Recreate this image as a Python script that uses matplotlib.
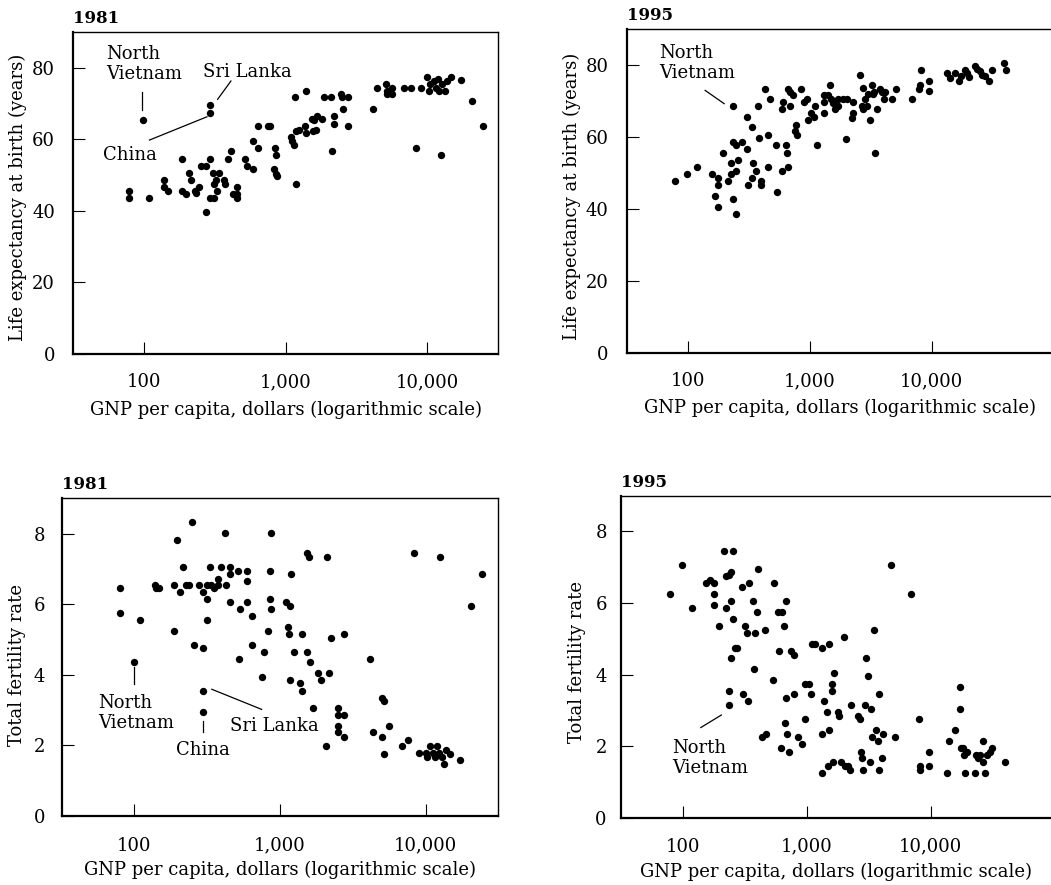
import matplotlib
matplotlib.use('Agg')
import matplotlib.pyplot as plt
from matplotlib.ticker import FixedLocator, FixedFormatter, NullLocator

plt.rcParams['font.family'] = ['DejaVu Serif']
plt.rcParams['font.size'] = 13

# ---------------- data ----------------
# Panel A: life expectancy 1981
le81_gnp = [98, 294, 294,
            78, 78, 108, 138, 138, 147, 187, 187, 199, 207, 217, 228, 235, 247, 255, 275, 275,
            294, 294, 315, 309, 341, 315, 323, 328, 370, 376, 395, 414, 423, 454, 454, 454,
            517, 531, 586, 592, 642, 642, 755, 780, 846, 855, 832, 855, 865,
            1091, 1120, 1151, 1183, 1170, 1183, 1248, 1375, 1406, 1406, 1567, 1636, 1549, 1680,
            1823, 1600, 1883, 2086, 2120, 2204, 2204, 2455, 2518, 2778, 2547, 2748,
            4168, 4446, 5090, 5227, 5607, 5227, 5607, 6856, 7638, 8375, 8977,
            10000, 10280, 10550, 11140, 11570, 11950, 12100, 12620, 12760, 13320, 13830, 14840,
            17450, 20760, 24660]
le81_life = [65.5, 69.5, 67.5,
             45.6, 43.6, 43.6, 48.5, 46.7, 45.5, 54.4, 45.6, 44.8, 50.6, 48.5, 45.5, 45.0, 46.7, 52.5, 52.5, 39.7,
             54.4, 43.6, 43.6, 50.6, 50.6, 47.6, 48.5, 45.5, 48.5, 47.6, 54.4, 56.7, 44.8, 46.7, 43.6, 44.6,
             54.4, 52.5, 51.6, 59.4, 57.5, 63.6, 63.6, 63.6, 57.5, 55.5, 51.6, 50.4, 49.7,
             60.6, 59.4, 58.5, 47.6, 71.7, 62.4, 62.6, 63.6, 61.7, 73.5, 62.4, 62.6, 65.6, 66.6,
             65.6, 65.5, 71.7, 71.7, 56.7, 66.6, 64.4, 72.6, 71.7, 71.7, 68.6, 63.6,
             68.6, 74.4, 75.6, 73.5, 74.4, 72.6, 72.6, 74.4, 74.4, 57.5, 74.4,
             77.4, 73.5, 75.6, 76.3, 74.4, 76.8, 73.5, 55.6, 75.4, 73.5, 76.3, 77.4,
             76.6, 70.6, 63.6]

# Panel B: life expectancy 1995
le95_gnp = [79, 98, 119, 157, 168, 176, 176, 176, 196, 215, 225, 225, 237, 237, 237, 247, 247, 247,
            260, 277, 305, 305, 314, 335, 335, 345, 363, 375, 384, 396, 396, 430, 452, 452, 473,
            533, 543, 589, 589, 608, 640, 648, 660, 668, 690, 690, 726, 759, 773, 782, 849, 899,
            945, 963, 1019, 1086, 1107, 1141, 1310, 1317, 1317, 1421, 1468, 1496, 1563, 1614,
            1698, 1712, 1887, 1972, 2008, 2208, 2249, 2279, 2585, 2668, 2718, 2753, 2843, 2932,
            3025, 3124, 3222, 3283, 3365, 3433, 3590, 3773, 3890, 4067, 4143, 4760, 5070, 6947,
            7878, 8024, 8124, 9575, 9575, 13280, 14130, 15530, 16860, 17290, 18760, 19370, 20370,
            22660, 23670, 24880, 25680, 27370, 29510, 31030, 39450, 40450]
le95_life = [47.8, 49.6, 51.7, 49.6, 43.6, 48.5, 46.7, 40.6, 55.6, 47.8, 52.9, 49.6, 68.6, 58.6, 42.9, 57.8, 38.6, 50.6,
             53.6, 58.6, 65.6, 56.6, 46.7, 62.8, 48.5, 52.7, 50.5, 68.6, 59.8, 47.8, 46.7, 73.5, 60.5, 51.7, 70.5,
             57.8, 44.7, 67.9, 50.6, 69.7, 57.8, 55.6, 73.5, 51.7, 68.6, 72.6, 71.6, 61.7, 63.5, 60.5, 73.5, 69.7,
             70.5, 64.7, 66.8, 65.6, 68.6, 57.8, 71.6, 66.6, 69.7, 71.6, 74.6, 70.5, 69.5, 67.7,
             70.5, 68.6, 70.5, 59.6, 70.5, 65.4, 69.7, 66.6, 77.4, 68.6, 73.7, 67.7, 70.5, 68.6,
             71.9, 64.7, 74.6, 71.9, 72.5, 55.6, 67.7, 73.5, 72.5, 70.5, 72.5, 70.5, 73.5, 70.5,
             73.5, 74.6, 78.6, 75.6, 72.8, 77.7, 76.5, 77.7, 75.6, 76.9, 78.6, 77.7, 76.8,
             79.9, 79.0, 78.3, 77.4, 76.9, 75.6, 78.6, 80.6, 78.6]

# Panel C: total fertility rate 1981
tf81_gnp = [79, 79, 109, 99.5, 296, 296, 138, 140, 148, 188, 197, 188, 207, 217, 225, 237, 249, 257,
            276, 296, 296, 317, 317, 317, 328, 337, 350, 374, 374, 394, 416, 424, 455, 455, 455,
            513, 524, 535, 594, 594, 594, 639, 639, 755, 779, 830, 848, 853, 861, 870,
            1096, 1131, 1155, 1167, 1167, 1186, 1242, 1365, 1409, 1416, 1525, 1532, 1580, 1606,
            1675, 1823, 1900, 2066, 2109, 2188, 2234, 2520, 2520, 2520, 2520, 2742, 2773, 2773,
            4169, 4346, 5008, 5061, 5195, 5195, 5620, 6893, 7615, 8371, 8998,
            10000, 10210, 10810, 11210, 11700, 12020, 12330, 12530, 13000, 13330, 13830, 14660,
            17340, 20610, 24370]
tf81_rate = [6.45, 5.75, 5.54, 4.36, 3.55, 2.96, 6.53, 6.45, 6.45, 6.53, 7.82, 5.24, 6.34, 7.04, 6.53, 6.53, 8.34, 4.85,
             6.53, 6.34, 4.76, 6.53, 6.14, 5.54, 7.04, 6.53, 6.45, 6.71, 6.53, 7.04, 8.03, 6.53, 7.04, 6.85, 6.06,
             6.95, 4.44, 5.86, 6.95, 6.65, 6.06, 5.66, 4.85, 3.94, 4.65, 5.24, 6.14, 6.95, 8.03, 5.86,
             6.06, 5.35, 5.15, 5.94, 3.85, 6.85, 4.65, 3.76, 5.15, 3.55, 4.65, 7.44, 7.35, 4.37,
             3.07, 4.06, 3.85, 1.97, 7.35, 4.06, 5.04, 3.07, 2.86, 2.55, 2.37, 5.15, 2.86, 2.25,
             4.44, 2.37, 2.25, 3.35, 3.27, 1.77, 2.55, 1.97, 2.16, 7.44, 1.78,
             1.78, 1.67, 1.97, 1.78, 1.67, 1.97, 1.78, 7.35, 1.67, 1.47, 1.86, 1.77,
             1.58, 5.94, 6.85]

# Panel D: total fertility rate 1995
tf95_gnp = [78.5, 98.8, 118, 155, 165, 178, 178, 178, 196, 216, 255, 225, 237, 247, 225, 247, 255, 263, 275,
            247, 237, 237, 303, 317, 333, 343, 366, 375, 307, 337, 384, 396, 406, 437, 459, 474,
            530, 540, 589, 638, 593, 615, 650, 667, 675, 687, 695, 722, 754, 787, 787, 849, 909,
            967, 967, 1041, 1093, 1106, 1164, 1318, 1318, 1318, 1376, 1446, 1473, 1501, 1501, 1596,
            1596, 1617, 1667, 1775, 1829, 1874, 1995, 2032, 2163, 2232, 2287, 2573, 2688, 2721,
            2773, 2826, 2951, 2987, 3098, 3236, 3296, 3340, 3468, 3597, 3735, 3850, 3850, 4070,
            4149, 4786, 5120, 6980, 8000, 8150, 8150, 9640, 9640, 13470, 14150, 15830, 17150,
            17150, 17480, 18360, 18700, 19540, 18920, 22800, 23220, 23950, 25000, 26300, 26600,
            27300, 28300, 29800, 31100, 39800]
tf95_rate = [6.25, 7.05, 5.86, 6.55, 6.63, 6.55, 6.25, 5.94, 5.36, 7.45, 7.45, 6.75, 6.77, 6.87, 5.86, 6.06, 5.55, 4.74, 4.74,
             4.47, 3.54, 3.14, 6.45, 5.36, 5.16, 6.55, 6.06, 4.15, 3.47, 3.27, 5.16, 5.75, 6.94, 2.26, 5.24, 2.34,
             3.84, 6.55, 5.75, 5.75, 4.66, 1.96, 5.36, 2.65, 6.06, 3.35, 2.34, 1.84, 4.66, 4.56, 3.47, 2.26, 2.06,
             2.75, 3.75, 3.75, 3.47, 4.85, 4.85, 4.74, 1.26, 2.34, 3.27, 2.96, 1.45, 2.45, 4.85, 3.53,
             3.75, 1.56, 4.05, 2.96, 2.85, 1.56, 5.05, 1.45, 1.45, 1.33, 3.14, 2.85, 2.75, 1.84,
             1.66, 1.33, 3.14, 4.47, 3.95, 1.56, 3.05, 2.26, 5.24, 2.45, 2.15, 3.47, 1.33, 1.66,
             2.34, 7.05, 2.26, 6.25, 2.75, 1.45, 1.33, 1.84, 1.45, 1.26, 2.15, 2.45, 3.66,
             3.05, 1.96, 1.96, 1.75, 1.84, 1.26, 1.26, 1.75, 1.66, 1.75, 1.56, 2.15,
             1.26, 1.75, 1.84, 1.96, 1.56]

x_ticks = [100, 1000, 10000]
x_tick_labels = ['100', '1,000', '10,000']
le_ticks = [0, 20, 40, 60, 80]
tf_ticks = [0, 2, 4, 6, 8]

# annotation texts (text position, leader line) in data coordinates
ann_le81 = [("North\nVietnam", (54.3, 81.0), 'left', [(97.3, 73.1), (97.3, 68.1)]),
            ("Sri Lanka", (263, 78.9), 'left', [(332, 71.2), (412, 76.3)]),
            ("China", (51.4, 55.5), 'left', [(109.6, 59.8), (279, 66.3)])]
ann_le95 = [("North\nVietnam", (58.6, 80.6), 'left', [(139, 73.0), (199, 69.3)])]
ann_tf81 = [("North\nVietnam", (56.5, 2.93), 'left', [(99.5, 4.21), (99.5, 3.74)]),
            ("China", (294, 1.88), 'center', [(296, 2.69), (296, 2.37)]),
            ("Sri Lanka", (455, 2.56), 'left', [(340, 3.59), (748, 3.02)])]
ann_tf95 = [("North\nVietnam", (82.6, 1.67), 'left', [(140, 2.52), (205, 2.87)])]

# ---------------- figure ----------------
W, H = 1051, 885
fig = plt.figure(figsize=(W / 100, H / 100), dpi=100)


def px_axes(left, top, right, bottom):
    return fig.add_axes([left / W, 1 - bottom / H, (right - left) / W, (bottom - top) / H])


def fx(x):
    return x / W


def fy(y):
    return 1 - y / H


panels = [
    dict(rect=(73, 32, 498, 354), xmax=10 ** 4.5, ylim=(0, 90), yt=le_ticks, title='1981',
         gnp=le81_gnp, val=le81_life, ann=ann_le81, ylabel='Life expectancy at birth (years)',
         ylab_pos=(18, 197), xlab_pos=(285.5, 410), xpad=14, ypad=13),
    dict(rect=(626.7, 29.3, 1053.7, 352.7), xmax=10 ** 5, ylim=(0, 90), yt=le_ticks, title='1995',
         gnp=le95_gnp, val=le95_life, ann=ann_le95, ylabel='Life expectancy at birth (years)',
         ylab_pos=(572, 196), xlab_pos=(840, 408), xpad=14, ypad=13.2),
    dict(rect=(61.7, 498.3, 498.3, 816), xmax=10 ** 4.5, ylim=(0, 9), yt=tf_ticks, title='1981',
         gnp=tf81_gnp, val=tf81_rate, ann=ann_tf81, ylabel='Total fertility rate',
         ylab_pos=(17, 665), xlab_pos=(280, 870), xpad=15, ypad=12),
    dict(rect=(620.7, 495.7, 1054.7, 817.7), xmax=10 ** 5, ylim=(0, 9), yt=tf_ticks, title='1995',
         gnp=tf95_gnp, val=tf95_rate, ann=ann_tf95, ylabel='Total fertility rate',
         ylab_pos=(577, 662), xlab_pos=(836, 872), xpad=14.5, ypad=10),
]

for p in panels:
    ax = px_axes(*p['rect'])
    ax.set_xscale('log')
    ax.set_xlim(10 ** 1.5, p['xmax'])
    ax.set_ylim(*p['ylim'])
    ax.plot(p['gnp'], p['val'], 'o', color='black', markersize=5.3,
            markeredgewidth=0, clip_on=False, zorder=3)

    ax.xaxis.set_major_locator(FixedLocator(x_ticks))
    ax.xaxis.set_major_formatter(FixedFormatter(x_tick_labels))
    ax.xaxis.set_minor_locator(NullLocator())
    ax.yaxis.set_major_locator(FixedLocator(p['yt']))
    ax.yaxis.set_major_formatter(FixedFormatter([str(v) for v in p['yt']]))
    ax.tick_params(axis='both', direction='in', length=8.5, width=0.8, labelsize=13,
                   colors='black')
    ax.tick_params(axis='x', pad=p['xpad'])
    ax.tick_params(axis='y', pad=p['ypad'])

    for side in ['left', 'bottom']:
        ax.spines[side].set_linewidth(1.6)
    for side in ['top', 'right']:
        ax.spines[side].set_linewidth(1.0)

    ax.set_title(p['title'], loc='left', fontweight='bold', fontsize=12, pad=6.5)

    ax.set_ylabel(p['ylabel'], fontsize=13)
    ax.yaxis.label.set_rotation_mode('default')
    ax.yaxis.label.set_va('center')
    ax.yaxis.label.set_ha('center')
    ax.yaxis.set_label_coords(fx(p['ylab_pos'][0]), fy(p['ylab_pos'][1]), transform=fig.transFigure)

    ax.set_xlabel('GNP per capita, dollars (logarithmic scale)', fontsize=13)
    ax.xaxis.label.set_va('center')
    ax.xaxis.set_label_coords(fx(p['xlab_pos'][0]), fy(p['xlab_pos'][1]), transform=fig.transFigure)

    for text, (tx, ty), ha, line in p['ann']:
        ax.text(tx, ty, text, ha=ha, va='center', multialignment='left', fontsize=13,
                linespacing=1.15)
        (x0, y0), (x1, y1) = line
        ax.plot([x0, x1], [y0, y1], color='black', linewidth=0.9)

fig.savefig('out.png', dpi=100)
